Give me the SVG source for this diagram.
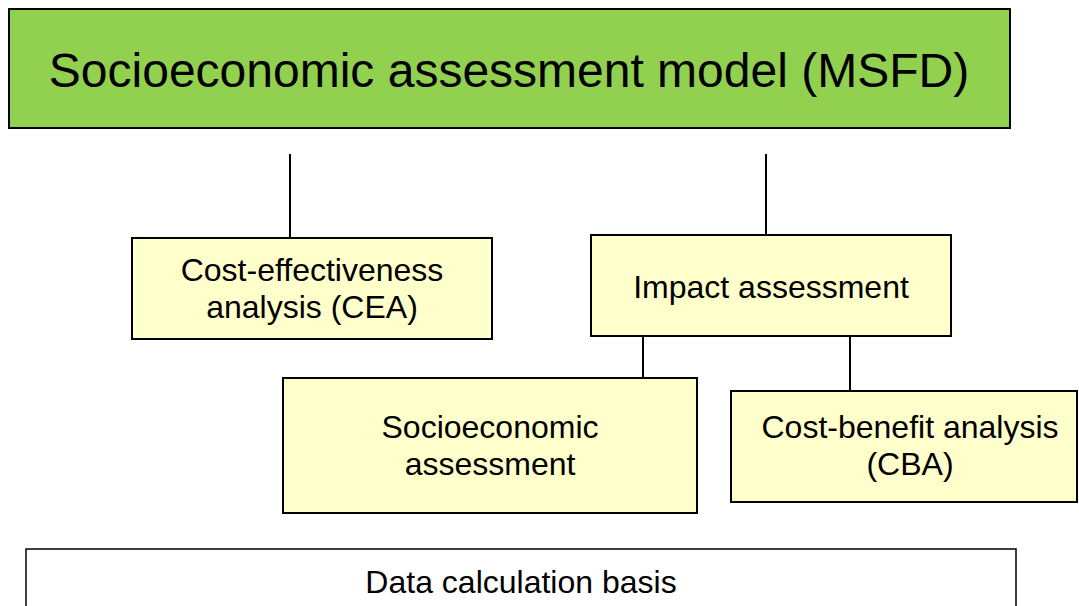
<svg xmlns="http://www.w3.org/2000/svg" width="1079" height="606" viewBox="0 0 1079 606">
  <style>
    .box { stroke: #000; stroke-width: 2; }
    .main { fill: #92D050; }
    .sub { fill: #FFFFCC; }
    .plain { fill: #FFFFFF; stroke-width: 1.5; }
    .lbl { font-family: "Liberation Sans", Arial, sans-serif; font-size: 32px; fill: #000; text-anchor: middle; }
    .title { font-size: 48px; }
    .conn line { stroke: #000; stroke-width: 2; }
  </style>
  <rect width="1079" height="606" fill="#FFFFFF"/>

  <!-- connectors -->
  <g id="connectors" class="conn">
    <line x1="290" y1="154" x2="290" y2="238"/>
    <line x1="766" y1="154" x2="766" y2="235"/>
    <line x1="643" y1="336" x2="643" y2="378"/>
    <line x1="850" y1="336" x2="850" y2="391"/>
  </g>

  <g id="node-model">
    <rect class="box main" x="9" y="9" width="1001" height="119"/>
    <text class="lbl title" x="509" y="87">Socioeconomic assessment model (MSFD)</text>
  </g>

  <g id="node-cea">
    <rect class="box sub" x="132" y="238" width="360" height="101"/>
    <text class="lbl" x="312" y="281">Cost-effectiveness</text>
    <text class="lbl" x="312" y="318">analysis (CEA)</text>
  </g>

  <g id="node-impact">
    <rect class="box sub" x="591" y="235" width="360" height="101"/>
    <text class="lbl" x="771" y="298">Impact assessment</text>
  </g>

  <g id="node-socio">
    <rect class="box sub" x="283" y="378" width="414" height="135"/>
    <text class="lbl" x="490" y="438">Socioeconomic</text>
    <text class="lbl" x="490" y="475">assessment</text>
  </g>

  <g id="node-cba">
    <rect class="box sub" x="731" y="391" width="346" height="111"/>
    <text class="lbl" x="910" y="438">Cost-benefit analysis</text>
    <text class="lbl" x="910" y="475">(CBA)</text>
  </g>

  <g id="node-data">
    <rect class="box plain" x="26" y="549" width="990" height="80"/>
    <text class="lbl" x="521" y="593">Data calculation basis</text>
  </g>
</svg>
